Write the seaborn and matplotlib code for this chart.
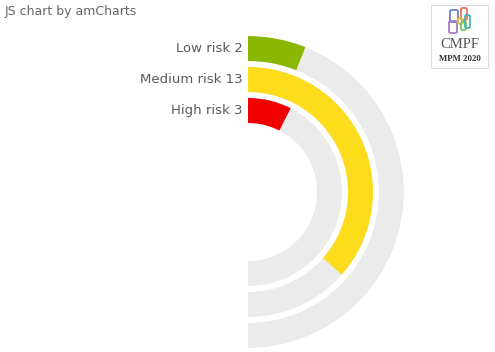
import numpy as np
import matplotlib
matplotlib.use("Agg")
import matplotlib.pyplot as plt
import matplotlib.patches as mpatches
import seaborn as sns

# data
categories = ["Low risk", "Medium risk", "High risk"]
counts = [2, 13, 3]
# bar length on a 0-100 value axis
bar_values = [12, 73, 15]
axis_max = 100
bar_colors = ["#8ab800", "#fddc1c", "#f20000"]

sns.set_theme(style="white")
plt.rcParams['font.family'] = ['DejaVu Sans']

W, H = 495, 352
fig = plt.figure(figsize=(W / 100, H / 100), dpi=100)


def px(x, y):
    # pixel position (from top left) -> figure fraction
    return x / W, 1 - y / H


# polar axes, centre of the rings at (248, 192) px
cx, cy, R = 248, 192, 156
ax = fig.add_axes([(cx - R) / W, (H - cy - R) / H, 2 * R / W, 2 * R / H], projection='polar')
ax.set_theta_zero_location('N')
ax.set_theta_direction(-1)
ax.set_ylim(0, R)
ax.axis('off')

band, gap = 25, 6
for i, (cat, n, v, c) in enumerate(zip(categories, counts, bar_values, bar_colors)):
    r = R - band / 2 - i * (band + gap)
    ax.barh(r, np.pi, height=band, left=0, color="#ebebeb", edgecolor="none")
    ax.barh(r, v / axis_max * np.pi, height=band, left=0, color=c, edgecolor="none")
    ax.annotate(f"{cat} {n}", xy=(0, r), xytext=(-4, 0), textcoords='offset points',
                ha='right', va='center', fontsize=9.5, color="#5a5a5a")

fig.text(*px(5, 12), "JS chart by amCharts", va='center', ha='left', fontsize=9, color="#666666")

# logo box top right
x0, y0 = px(431, 68)
x1, y1 = px(488, 5)
fig.patches.append(mpatches.Rectangle((x0, y0), x1 - x0, y1 - y0, transform=fig.transFigure,
                                      facecolor="white", edgecolor="#dddddd", lw=0.8))
shapes = [((450, 10, 8, 12), "#6a7fc4"), ((449, 21, 8, 12), "#a77cc9"),
          ((461, 8, 6, 12), "#e8735a"), ((458, 18, 4, 6), "#d9c040"),
          ((461, 22, 5, 8), "#7bbf5a"), ((465, 15, 5, 13), "#3fb8b0")]
for (sx, sy, sw, sh), col in shapes:
    bx, by = px(sx, sy + sh)
    fig.patches.append(mpatches.FancyBboxPatch((bx, by), sw / W, sh / H, transform=fig.transFigure,
                                               boxstyle="round,pad=0,rounding_size=0.004",
                                               facecolor="none", edgecolor=col, lw=1.3))
fig.text(*px(459.5, 44), "CMPF", ha='center', va='center', fontsize=10.5,
         family=['Liberation Serif'], color="#555555")
fig.text(*px(459.5, 59), "MPM 2020", ha='center', va='center', fontsize=6.3,
         family=['Liberation Serif'], weight='bold', color="#333333")

fig.savefig("out.png", dpi=100)
